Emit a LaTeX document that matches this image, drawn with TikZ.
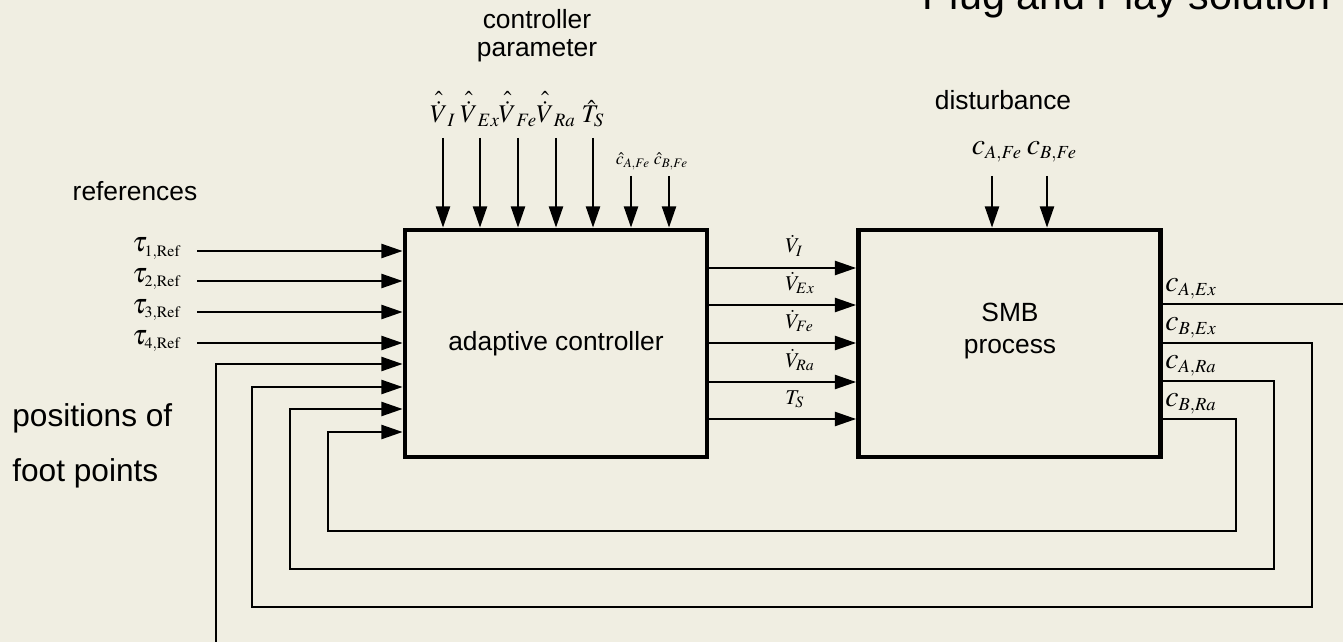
\documentclass[tikz,border=0pt]{standalone}
\usepackage{mathptmx}
\usepackage[no-math]{fontspec}
\setmainfont{Liberation Sans}
\usetikzlibrary{arrows.meta}
\definecolor{paper}{RGB}{240,238,226}
\DeclareMathSizes{16}{16}{9}{7}
\DeclareMathSizes{17}{17}{10.5}{8}
\newcommand{\hatdot}[1]{\hat{\vphantom{\dot{\dot{#1}}}\smash{\dot{#1}}}}

\begin{document}
\begin{tikzpicture}[x=0.02cm, y=-0.02cm, font=\fontsize{15}{18}\selectfont, line join=miter, >={Triangle[length=12pt,width=8pt]},
	block/.style={draw, line width=2.8pt, minimum width=6.04cm, minimum height=4.54cm},
	sig/.style={line width=1.1pt},
	lbl/.style={inner sep=0pt}]
	\useasboundingbox (0,0) rectangle (1343,642);
	\fill[paper] (0,0) rectangle (1343,642);
	\clip (0,0) rectangle (1343,642);
	% blocks
	\node[block] (ctrl) at (556,343.5) {adaptive controller};
	\node[block] (smb) at (1009.5,343.5) {};
	\node[lbl, align=center] (smbtxt) at (1010,331) {SMB\\process};
	% texts
	\node[lbl, anchor=base west, font=\fontsize{23.5}{28}\selectfont] (title) at (922,10) {Plug and Play solution};
	\node[lbl, align=center, font=\fontsize{15}{16}\selectfont] (partxt) at (537,35.3) {controller\\parameter};
	\node[lbl, anchor=base] (reftxt) at (135,200) {references};
	\node[lbl, anchor=base] (disttxt) at (1003,110) {disturbance};
	\node[lbl, anchor=west, align=left, font=\fontsize{18}{31}\selectfont] (foottxt) at (12,446) {positions of\\foot points};
	% references
	\foreach \y/\i in {251/1, 281/2, 312/3, 343/4} {
		\coordinate (ref\i) at (197,\y);
		\draw[sig,->] (ref\i) -- (ref\i -| ctrl.west);
		\node[lbl, anchor=base east, font=\fontsize{16}{19}\selectfont] (tau\i) at (181,\y+1) {$\tau_{\i,\mathrm{Ref}}$};
	}
	% controller parameter
	\foreach \x/\n/\lab in {443/vi/{\hatdot{V}_{I}}, 480/vex/{\hatdot{V}_{Ex}}, 518/vfe/{\hatdot{V}_{Fe}}, 556/vra/{\hatdot{V}_{Ra}}, 593/ts/{\hat{T}_{S}}} {
		\coordinate (p\n) at (\x,138);
		\draw[sig,->] (p\n) -- (p\n |- ctrl.north);
		\node[lbl, anchor=base, font=\fontsize{14.5}{17}\selectfont] (l\n) at (\x,123) {$\lab$};
	}
	\foreach \x/\n/\lab in {631/cafe/{\hat{c}_{A,Fe}}, 669/cbfe/{\hat{c}_{B,Fe}}} {
		\coordinate (p\n) at (\x,176);
		\draw[sig,->] (p\n) -- (p\n |- ctrl.north);
		\node[lbl, anchor=base, font=\fontsize{10}{12}\selectfont] (l\n) at (\x+2,165) {$\lab$};
	}
	% disturbance
	\foreach \x/\n/\lab in {992/dafe/{c_{A,Fe}}, 1047/dbfe/{c_{B,Fe}}} {
		\coordinate (d\n) at (\x,176);
		\draw[sig,->] (d\n) -- (d\n |- smb.north);
		\node[lbl, anchor=base, font=\fontsize{17}{20}\selectfont] (l\n) at (\x+5,154) {$\lab$};
	}
	% manipulated variables
	\foreach \y/\n/\lab in {268/mi/{\dot{V}_{I}}, 305/mex/{\dot{V}_{Ex}}, 343/mfe/{\dot{V}_{Fe}}, 382/mra/{\dot{V}_{Ra}}, 419/mts/{T_{S}}} {
		\draw[sig,->] (ctrl.east |- 0,\y) -- (smb.west |- 0,\y);
		\node[lbl, anchor=base west, font=\fontsize{12}{14}\selectfont] (l\n) at (785,\y-15) {$\lab$};
	}
	% feedback of the foot points
	\foreach \yo/\xr/\yb/\xl/\yi/\lab [count=\k] in {304/1365/665/216/364/{c_{A,Ex}}, 343/1312/607/252/387/{c_{B,Ex}}, 381/1274/569/290/409/{c_{A,Ra}}, 419/1236/531/328/432/{c_{B,Ra}}} {
		\coordinate (fb\k) at (\xr,\yb);
		\coordinate (fl\k) at (\xl,\yi);
		\draw[sig,->] (smb.east |- 0,\yo) -| (fb\k) -| (fl\k) -- (ctrl.west |- fl\k);
		\node[lbl, anchor=base west, font=\fontsize{17}{20}\selectfont] (out\k) at (1165,\yo-13) {$\lab$};
	}
\end{tikzpicture}
\end{document}
